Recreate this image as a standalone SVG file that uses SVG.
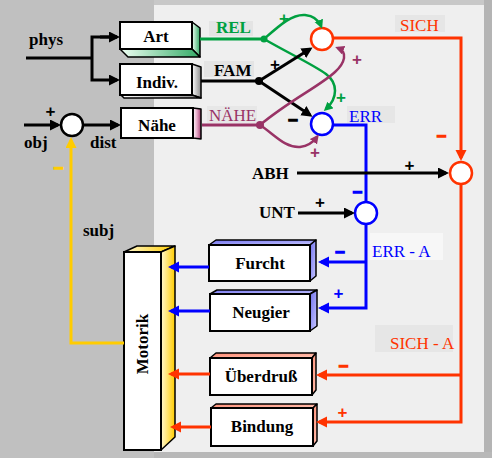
<svg xmlns="http://www.w3.org/2000/svg" width="492" height="458" viewBox="0 0 492 458">
<defs>
<style>
.t{font-family:"Liberation Serif","Times New Roman",serif;font-size:17px}
.b{font-weight:bold}
.m{text-anchor:middle}
.box{fill:#fff;stroke:#000;stroke-width:2}
.face{stroke:#000;stroke-width:1.5;stroke-linejoin:round}
.ln{fill:none;stroke-width:3}
.cv{fill:none;stroke-width:2.5}
.k{stroke:#000}
.g{stroke:#00a040}
.r{stroke:#ff3300}
.bl{stroke:#0000ff}
.mr{stroke:#993366}
.y{stroke:#ffcc00}
.sg{font-family:"Liberation Sans",Arial,sans-serif;font-weight:bold;font-size:17px;text-anchor:middle}
.mi{stroke-width:1.3}
.circ{fill:#fff;stroke-width:2.5}
</style>
<linearGradient id="gG" x1="0" y1="0" x2="1" y2="0"><stop offset="0" stop-color="#f0fff4"/><stop offset="1" stop-color="#33aa66"/></linearGradient>
<linearGradient id="gK" x1="0" y1="0" x2="1" y2="0"><stop offset="0" stop-color="#ffffff"/><stop offset="1" stop-color="#8a8a8a"/></linearGradient>
<linearGradient id="gM" x1="0" y1="0" x2="1" y2="0"><stop offset="0" stop-color="#ffffff"/><stop offset="0.5" stop-color="#e8a8c8"/><stop offset="1" stop-color="#a04070"/></linearGradient>
<linearGradient id="gB" x1="0" y1="0" x2="1" y2="1"><stop offset="0" stop-color="#7070ee"/><stop offset="1" stop-color="#c8c8ff"/></linearGradient>
<linearGradient id="gR" x1="0" y1="0" x2="1" y2="1"><stop offset="0" stop-color="#ff8870"/><stop offset="1" stop-color="#ffc8b8"/></linearGradient>
<linearGradient id="gY" x1="0" y1="0" x2="1" y2="0"><stop offset="0" stop-color="#fff8d0"/><stop offset="1" stop-color="#ffcc00"/></linearGradient>
<marker id="aK" markerUnits="userSpaceOnUse" markerWidth="12" markerHeight="12" viewBox="0 0 12 12" refX="8" refY="5.5" orient="auto"><path d="M0,0 L11,5.5 L0,11 z" fill="#000"/></marker>
<marker id="aB" markerUnits="userSpaceOnUse" markerWidth="12" markerHeight="12" viewBox="0 0 12 12" refX="8" refY="5.5" orient="auto"><path d="M0,0 L11,5.5 L0,11 z" fill="#0000ff"/></marker>
<marker id="aR" markerUnits="userSpaceOnUse" markerWidth="12" markerHeight="12" viewBox="0 0 12 12" refX="8" refY="5.5" orient="auto"><path d="M0,0 L11,5.5 L0,11 z" fill="#ff3300"/></marker>
<marker id="aY" markerUnits="userSpaceOnUse" markerWidth="12" markerHeight="12" viewBox="0 0 12 12" refX="8" refY="5.5" orient="auto"><path d="M0,0 L11,5.5 L0,11 z" fill="#ffcc00"/></marker>
<marker id="sG" markerUnits="userSpaceOnUse" markerWidth="10" markerHeight="10" viewBox="0 0 10 10" refX="6" refY="4.5" orient="auto"><path d="M0,0 L9,4.5 L0,9 z" fill="#00a040"/></marker>
<marker id="sM" markerUnits="userSpaceOnUse" markerWidth="10" markerHeight="10" viewBox="0 0 10 10" refX="6" refY="4.5" orient="auto"><path d="M0,0 L9,4.5 L0,9 z" fill="#993366"/></marker>
</defs>

<g id="background">
<rect x="0" y="0" width="492" height="458" fill="#c0c0c0"/>
<rect x="154" y="0" width="338" height="5" fill="#c8c8c8"/>
<rect x="484" y="0" width="8" height="458" fill="#b4b4b4"/>
<rect x="154" y="452" width="338" height="6" fill="#b8b8b8"/>
<rect x="154" y="5" width="330" height="447" fill="#efefef"/>
<rect x="209" y="21" width="44" height="15" fill="#e4e4e4"/>
<rect x="204" y="61" width="50" height="16" fill="#e4e4e4"/>
<rect x="207" y="106" width="50" height="17" fill="#e7e7e7"/>
<rect x="347" y="106" width="48" height="17" fill="#e6e6e6"/>
<rect x="395" y="15" width="50" height="17" fill="#e6e6e6"/>
<rect x="370" y="233" width="73" height="27" fill="#f7f7f7"/>
<rect x="375" y="325" width="78" height="27" fill="#e6e6e6"/>
</g>

<g id="art">
<polygon class="face" fill="url(#gG)" points="192,22 200,28 200,57 192,49"/>
<polygon class="face" fill="url(#gG)" points="120,49 192,49 200,57 128,57"/>
<rect class="box" x="120" y="22" width="72" height="27"/>
<text class="t b m" x="156" y="42">Art</text>
</g>
<g id="indiv">
<polygon class="face" fill="url(#gK)" points="192,64 201,67 201,98 192,95"/>
<polygon class="face" fill="url(#gK)" points="121,95 192,95 201,98 124,98"/>
<rect class="box" x="120" y="64" width="72" height="31"/>
<text class="t b m" x="157" y="88">Indiv.</text>
</g>
<g id="naehe">
<polygon class="face" fill="url(#gM)" points="193,108 201,109 201,139 193,138"/>
<rect class="box" x="121" y="108" width="72" height="30"/>
<text class="t b m" x="157" y="131">Nähe</text>
</g>
<g id="motorik">
<polygon class="face" fill="url(#gY)" points="124,252 137,246 175,246 161,252"/>
<polygon class="face" fill="url(#gY)" points="161,252 175,246 175,437 161,450"/>
<rect class="box" x="124" y="252" width="37" height="198"/>
<text class="t b m" transform="translate(148,344) rotate(-90)">Motorik</text>
</g>
<g id="furcht">
<polygon class="face" fill="url(#gB)" points="209,245 216,240 316,240 310,245"/>
<polygon class="face" fill="url(#gB)" points="310,245 316,240 316,276 310,281"/>
<rect class="box" x="209" y="245" width="101" height="36"/>
<text class="t b m" x="260" y="269">Furcht</text>
</g>
<g id="neugier">
<polygon class="face" fill="url(#gB)" points="210,294 217,290 317,290 310,294"/>
<polygon class="face" fill="url(#gB)" points="310,294 317,290 317,326 310,331"/>
<rect class="box" x="210" y="294" width="100" height="37"/>
<text class="t b m" x="261" y="318">Neugier</text>
</g>
<g id="ueberdruss">
<polygon class="face" fill="url(#gR)" points="210,358 216,353 316,353 312,358"/>
<polygon class="face" fill="url(#gR)" points="312,358 316,353 316,390 312,395"/>
<rect class="box" x="210" y="358" width="102" height="37"/>
<text class="t b m" x="261" y="382">Überdruß</text>
</g>
<g id="bindung">
<polygon class="face" fill="url(#gR)" points="211,408 216,404 317,404 313,408"/>
<polygon class="face" fill="url(#gR)" points="313,408 317,404 317,441 313,446"/>
<rect class="box" x="211" y="408" width="102" height="38"/>
<text class="t b m" x="262" y="432">Bindung</text>
</g>

<g id="sum-obj"><circle class="circ" cx="72" cy="125" r="11" stroke="#000"/></g>
<g id="sum-sich"><circle class="circ" cx="322" cy="39" r="11" stroke="#ff3300"/></g>
<g id="sum-err"><circle class="circ" cx="322" cy="124" r="11" stroke="#0000ff"/></g>
<g id="sum-abh"><circle class="circ" cx="461" cy="173" r="11" stroke="#ff3300"/></g>
<g id="sum-unt"><circle class="circ" cx="366" cy="213" r="11" stroke="#0000ff"/></g>

<g id="connectors">
<path class="ln k" d="M26,58 H92"/>
<path class="ln k" d="M117,37 H92 V80 H117" marker-end="url(#aK)"/>
<path class="ln k" d="M100,37 H117" marker-end="url(#aK)"/>
<path class="ln k" d="M24,125 H58" marker-end="url(#aK)"/>
<path class="ln k" d="M83,125 H118" marker-end="url(#aK)"/>
<path class="ln y" d="M124,343 H71 V140" marker-end="url(#aY)"/>

<path class="ln g" d="M200,39 H264"/>
<path class="ln k" d="M201,81 H259"/>
<path class="ln mr" d="M202,125 H260"/>
<path class="cv g" d="M264,39 C280,25 292,14 305,15 C314,16 319,21 321,26" marker-end="url(#sG)"/>
<path class="cv g" d="M264,39 C290,54 312,64 326,74 C338,83 338,98 326,109" marker-end="url(#sG)"/>
<path class="ln k" d="M259,81 L310,49" marker-end="url(#aK)"/>
<path class="ln k" d="M259,81 L310,115" marker-end="url(#aK)"/>
<path class="cv mr" d="M260,125 C290,100 320,86 335,72 C345,63 348,52 338,48" marker-end="url(#sM)"/>
<path class="cv mr" d="M260,125 C275,135 285,148 300,147 C309,146 314,141 317,137" marker-end="url(#sM)"/>
<circle cx="264" cy="39" r="3.5" fill="#00a040"/>
<circle cx="259" cy="81" r="4" fill="#000"/>
<circle cx="260" cy="125" r="4" fill="#993366"/>

<path class="ln r" d="M333,38 H461 V158" marker-end="url(#aR)"/>
<path class="ln r" d="M461,184 V422 H319" marker-end="url(#aR)"/>
<path class="ln r" d="M461,375 H319" marker-end="url(#aR)"/>
<path class="ln bl" d="M333,125 H366 V202"/>
<path class="ln bl" d="M366,224 V308 H321" marker-end="url(#aB)"/>
<path class="ln bl" d="M366,262 H321" marker-end="url(#aB)"/>
<path class="ln k" d="M297,173 H446" marker-end="url(#aK)"/>
<path class="ln k" d="M298,213 H352" marker-end="url(#aK)"/>

<path class="ln bl" d="M209,267 H171" marker-end="url(#aB)"/>
<path class="ln bl" d="M210,311 H171" marker-end="url(#aB)"/>
<path class="ln r" d="M210,374 H171" marker-end="url(#aR)"/>
<path class="ln r" d="M211,427 H173" marker-end="url(#aR)"/>

<text class="t b" x="29" y="45">phys</text>
<text class="t b" x="24" y="148">obj</text>
<text class="t b" x="90" y="148">dist</text>
<text class="t b" x="83" y="236">subj</text>
<text class="t b" x="216" y="33" fill="#00a040">REL</text>
<text class="t b" x="214" y="76">FAM</text>
<text class="t" x="209" y="121" fill="#993366">NÄHE</text>
<text class="t" x="349" y="122" fill="#0000ff">ERR</text>
<text class="t" x="400" y="31" fill="#ff3300">SICH</text>
<text class="t b" x="252" y="179">ABH</text>
<text class="t b" x="259" y="218">UNT</text>
<text class="t" x="372" y="257" fill="#0000ff">ERR - A</text>
<text class="t" x="390" y="349" fill="#ff3300">SICH - A</text>

<text class="sg" x="50.5" y="117">+</text>
<text class="sg mi" x="58.5" y="173" fill="#ffcc00" stroke="#ffcc00">–</text>
<text class="sg" x="284" y="24" fill="#00a040">+</text>
<text class="sg" x="275" y="70">+</text>
<text class="sg" x="357" y="65" fill="#993366">+</text>
<text class="sg" x="341" y="103" fill="#00a040">+</text>
<text class="sg mi" x="293" y="125" stroke="#000">–</text>
<text class="sg" x="315" y="158" fill="#993366">+</text>
<text class="sg mi" x="441.5" y="141" fill="#ff3300" stroke="#ff3300">–</text>
<text class="sg" x="409.5" y="171">+</text>
<text class="sg mi" x="357.5" y="197" fill="#0000ff" stroke="#0000ff">–</text>
<text class="sg" x="320" y="208">+</text>
<text class="sg mi" x="340" y="257" fill="#0000ff" stroke="#0000ff">–</text>
<text class="sg" x="338.5" y="299" fill="#0000ff">+</text>
<text class="sg mi" x="343.5" y="371" fill="#ff3300" stroke="#ff3300">–</text>
<text class="sg" x="342.5" y="418" fill="#ff3300">+</text>
</g>
</svg>
